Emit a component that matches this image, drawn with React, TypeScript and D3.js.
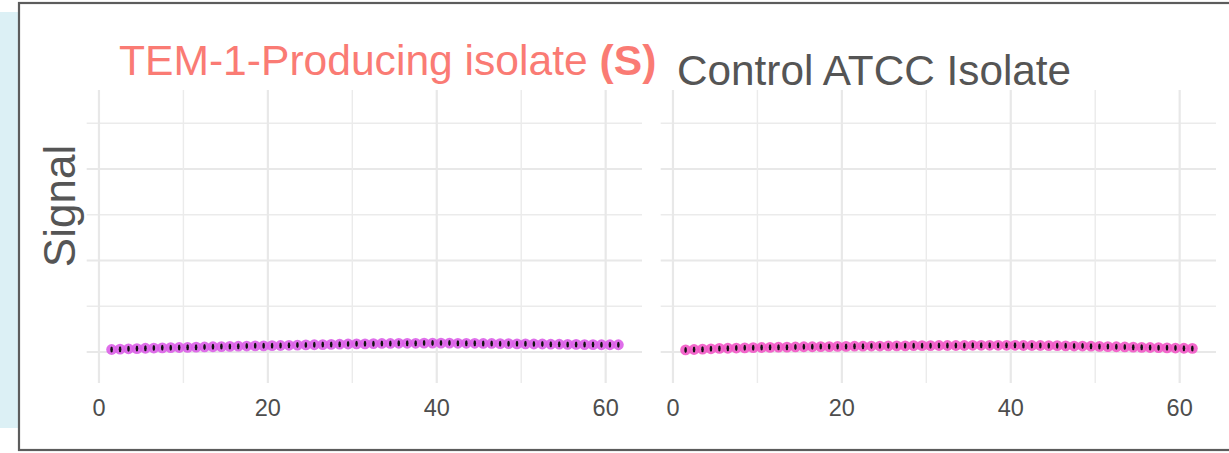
import React from "react";
import * as d3 from "d3";

// sampling times (minutes), one reading per minute
const times = d3.range(61).map(i => 1.5 + i);

// TEM-1-Producing isolate signal
const temSignal = [
  0.014, 0.016, 0.018, 0.019, 0.021, 0.022, 0.023, 0.024, 0.025, 0.026,
  0.027, 0.028, 0.029, 0.030, 0.031, 0.032, 0.033, 0.034, 0.034, 0.035,
  0.036, 0.037, 0.038, 0.039, 0.040, 0.041, 0.042, 0.043, 0.044, 0.045,
  0.045, 0.046, 0.047, 0.047, 0.048, 0.048, 0.048, 0.049, 0.049, 0.049,
  0.049, 0.048, 0.048, 0.048, 0.047, 0.047, 0.046, 0.046, 0.045, 0.045,
  0.044, 0.044, 0.043, 0.043, 0.042, 0.042, 0.041, 0.041, 0.040, 0.040,
  0.040,
];

// Control ATCC isolate signal
const controlSignal = [
  0.012, 0.014, 0.016, 0.018, 0.020, 0.021, 0.022, 0.023, 0.024, 0.025,
  0.026, 0.027, 0.027, 0.028, 0.029, 0.029, 0.030, 0.030, 0.031, 0.031,
  0.032, 0.032, 0.033, 0.033, 0.034, 0.034, 0.034, 0.035, 0.035, 0.035,
  0.036, 0.036, 0.036, 0.036, 0.037, 0.037, 0.037, 0.037, 0.037, 0.037,
  0.036, 0.036, 0.036, 0.035, 0.035, 0.034, 0.033, 0.033, 0.032, 0.031,
  0.030, 0.029, 0.028, 0.027, 0.026, 0.025, 0.024, 0.023, 0.022, 0.021,
  0.020,
];

const xMajor = [0, 20, 40, 60];
const xMinor = [10, 30, 50];
const yMajor = [0, 0.5, 1.0];
const yMinor = [0.25, 0.75, 1.25];

const width = 1229;
const height = 453;
const font = "'Liberation Sans', Arial, Helvetica, sans-serif";

const panels = [
  { key: "tem", values: temSignal, left: 86.7, right: 642, color: "#dc5ee8" },
  { key: "ctrl", values: controlSignal, left: 660.7, right: 1216, color: "#f257c6" },
];

const top = 90;
const bottom = 383;

const y = d3.scaleLinear().domain([-0.169, 1.432]).range([bottom, top]);

function Panel({ p }: { p: typeof panels[number] }) {
  const x = d3.scaleLinear().domain([-1.45, 64.3]).range([p.left, p.right]);
  return (
    <g>
      {yMinor.map(v => (
        <line key={"ym" + v} x1={p.left} x2={p.right} y1={y(v)} y2={y(v)} stroke="#ebebeb" strokeWidth={1.4} />
      ))}
      {yMajor.map(v => (
        <line key={"yM" + v} x1={p.left} x2={p.right} y1={y(v)} y2={y(v)} stroke="#e8e8e8" strokeWidth={2} />
      ))}
      {xMinor.map(v => (
        <line key={"xm" + v} x1={x(v)} x2={x(v)} y1={top} y2={bottom} stroke="#ebebeb" strokeWidth={1.4} />
      ))}
      {xMajor.map(v => (
        <line key={"xM" + v} x1={x(v)} x2={x(v)} y1={top} y2={bottom} stroke="#e8e8e8" strokeWidth={2.2} />
      ))}
      {p.values.map((v, i) => (
        <g key={i}>
          <circle cx={x(times[i])} cy={y(v)} r={5.4} fill={p.color} opacity={0.9} />
          <ellipse cx={x(times[i])} cy={y(v)} rx={1.3} ry={3} fill="#111" />
        </g>
      ))}
      {xMajor.map(v => (
        <text key={"t" + v} x={x(v)} y={416} textAnchor="middle" fontSize={23.5} fill="#4d4d4d" fontFamily={font}>
          {v}
        </text>
      ))}
    </g>
  );
}

export default function App() {
  return (
    <svg width={width} height={height} style={{ position: "absolute", left: 0, top: 0, background: "#fff" }}>
      <rect x={0} y={12} width={19} height={416} fill="#dcf0f5" />
      <rect x={19} y={3} width={1220} height={447} fill="#fff" stroke="#5c5c5c" strokeWidth={2.2} />
      {panels.map(p => (
        <Panel key={p.key} p={p} />
      ))}
      <text x={119} y={75} fontSize={42.6} fill="#fa7b74" fontFamily={font}>
        TEM-1-Producing isolate <tspan fontWeight="bold">(S)</tspan>
      </text>
      <text x={677} y={85} fontSize={42.3} fill="#555" fontFamily={font}>
        Control ATCC Isolate
      </text>
      <text
        transform="translate(75,206) rotate(-90)"
        textAnchor="middle"
        fontSize={44}
        fill="#555"
        fontFamily={font}
      >
        Signal
      </text>
    </svg>
  );
}
